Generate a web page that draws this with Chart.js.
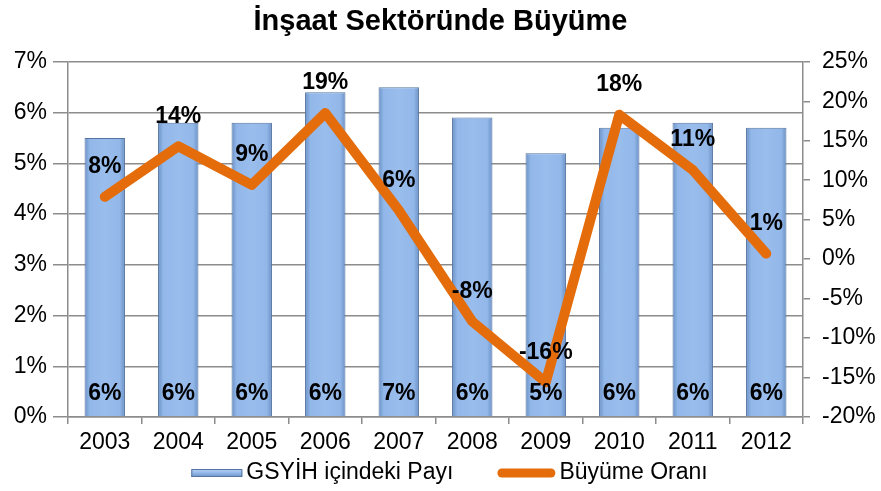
<!DOCTYPE html>
<html>
<head>
<meta charset="utf-8">
<title>İnşaat Sektöründe Büyüme</title>
<script src="https://cdn.jsdelivr.net/npm/chart.js@4.4.1/dist/chart.umd.min.js"></script>
<style>
    html, body { margin: 0; padding: 0; background: #fff; }
    #wrap { width: 881px; height: 491px; position: relative; }
</style>
</head>
<body>
<div id="wrap"><canvas id="insaat"></canvas></div>
<script>
    'use strict';

    // data
    var years = ['2003', '2004', '2005', '2006', '2007', '2008', '2009', '2010', '2011', '2012'];
    var gsyihPayi = [5.5, 5.8, 5.8, 6.4, 6.5, 5.9, 5.2, 5.7, 5.8, 5.7];      // % (left axis)
    var buyumeOrani = [7.9, 14.3, 9.4, 18.5, 6.2, -7.9, -15.6, 18.3, 11.3, 0.7]; // % (right axis)
    var leftTicks = [0, 7, 1];     // min, max, step
    var rightTicks = [-20, 25, 5];

    var barRatio = 0.55;
    var fontFamily = '"Liberation Sans", Arial, sans-serif';
    var tickFont = { family: fontFamily, size: 23 };
    var orange = '#e46c0a';

    var barFill = function (context) {
        var chart = context.chart;
        var xs = chart.scales && chart.scales.x;
        if (!xs || context.dataIndex === undefined) {
            return '#92b7e9';
        }
        var cx = xs.getPixelForValue(context.dataIndex);
        var half = (xs.width / years.length) * barRatio / 2;
        if (!isFinite(cx) || !isFinite(half) || half <= 0) {
            return '#92b7e9';
        }
        var g = chart.ctx.createLinearGradient(cx - half, 0, cx + half, 0);
        g.addColorStop(0, '#6b91c6');
        g.addColorStop(0.13, '#92b7e9');
        g.addColorStop(0.5, '#99bdec');
        g.addColorStop(0.87, '#92b7e9');
        g.addColorStop(1, '#6b91c6');
        return g;
    };

    // value labels, Excel-style
    var valueLabels = {
        id: 'valueLabels',
        afterDatasetsDraw: function (chart) {
            var ctx = chart.ctx;
            ctx.save();
            ctx.font = 'bold 23px ' + fontFamily;
            ctx.fillStyle = '#000';
            ctx.textAlign = 'center';
            ctx.textBaseline = 'middle';

            var bars = chart.getDatasetMeta(0).data;
            var base = chart.scales.y.getPixelForValue(0);
            bars.forEach(function (bar, i) {
                ctx.fillText(Math.round(gsyihPayi[i]) + '%', bar.x, base - 23);
            });

            var pts = chart.getDatasetMeta(1).data;
            pts.forEach(function (pt, i) {
                ctx.fillText(Math.round(buyumeOrani[i]) + '%', pt.x, pt.y - 30);
            });
            ctx.restore();
        }
    };

    // Excel-like legend: wide icon, text right next to it
    var excelLegend = {
        id: 'excelLegend',
        afterDraw: function (chart) {
            var ctx = chart.ctx;
            var y = chart.height - 18;
            var iconW = [51, 58], gap = 4, spacing = 44;
            var names = chart.data.datasets.map(function (d) { return d.label; });

            ctx.save();
            ctx.font = tickFont.size + 'px ' + fontFamily;
            var widths = names.map(function (n) { return ctx.measureText(n).width; });
            var total = iconW[0] + gap + widths[0] + spacing + iconW[1] + gap + widths[1];
            var x = chart.width / 2 + 9 - total / 2;

            // bar item
            var g = ctx.createLinearGradient(0, y - 4, 0, y + 4);
            g.addColorStop(0, '#b9d3f3');
            g.addColorStop(0.5, '#92b7e9');
            g.addColorStop(1, '#6b91c6');
            ctx.fillStyle = g;
            ctx.strokeStyle = '#55749f';
            ctx.lineWidth = 1;
            ctx.fillRect(x, y - 4, iconW[0], 8);
            ctx.strokeRect(x + 0.5, y - 3.5, iconW[0] - 1, 7);
            x += iconW[0] + gap;
            ctx.fillStyle = '#000';
            ctx.textBaseline = 'middle';
            ctx.textAlign = 'left';
            ctx.fillText(names[0], x, y);
            x += widths[0] + spacing;

            // line item
            ctx.strokeStyle = orange;
            ctx.lineWidth = 9;
            ctx.lineCap = 'round';
            ctx.beginPath();
            ctx.moveTo(x + 4.5, y);
            ctx.lineTo(x + iconW[1] - 4.5, y);
            ctx.stroke();
            x += iconW[1] + gap;
            ctx.fillText(names[1], x, y);
            ctx.restore();
        }
    };

    var fixWidth = function (w) {
        return function (scale) { scale.width = w; };
    };

    var ctx = document.getElementById('insaat').getContext('2d');

    var chart = new Chart(ctx, {
        type: 'bar',
        data: {
            labels: years,
            datasets: [
                {
                    type: 'bar',
                    label: 'GSYİH içindeki Payı',
                    data: gsyihPayi,
                    yAxisID: 'y',
                    backgroundColor: barFill,
                    borderColor: '#55749f',
                    borderWidth: 1,
                    barPercentage: barRatio,
                    categoryPercentage: 1,
                    order: 2
                },
                {
                    type: 'line',
                    label: 'Büyüme Oranı',
                    data: buyumeOrani,
                    yAxisID: 'y1',
                    borderColor: orange,
                    backgroundColor: orange,
                    borderWidth: 10,
                    borderCapStyle: 'round',
                    borderJoinStyle: 'round',
                    pointRadius: 0,
                    tension: 0,
                    order: 1
                }
            ]
        },
        options: {
            responsive: true,
            maintainAspectRatio: false,
            animation: false,
            layout: { padding: 0 },
            plugins: {
                title: {
                    display: true,
                    text: 'İnşaat Sektöründe Büyüme',
                    color: '#000',
                    font: { family: fontFamily, size: 29, weight: 'bold' },
                    padding: { top: 5, bottom: 22 }
                },
                legend: { display: false },
                tooltip: { enabled: false }
            },
            scales: {
                x: {
                    offset: true,
                    // x labels + legend strip under the plot
                    afterFit: function (scale) { scale.height = 74; },
                    grid: {
                        display: true,
                        drawOnChartArea: false,
                        offset: true,
                        color: '#8c8c8c',
                        lineWidth: 1.5,
                        tickLength: 7
                    },
                    border: { color: '#8c8c8c', width: 1.5 },
                    ticks: {
                        color: '#000',
                        padding: 5,
                        maxRotation: 0,
                        font: tickFont
                    }
                },
                y: {
                    position: 'left',
                    min: leftTicks[0],
                    max: leftTicks[1],
                    afterFit: fixWidth(68),
                    grid: {
                        color: '#8c8c8c',
                        lineWidth: 1.5,
                        tickLength: 15
                    },
                    border: { color: '#8c8c8c', width: 1.5 },
                    ticks: {
                        stepSize: leftTicks[2],
                        color: '#000',
                        padding: 6,
                        font: tickFont,
                        callback: function (v) { return v + '%'; }
                    }
                },
                y1: {
                    position: 'right',
                    min: rightTicks[0],
                    max: rightTicks[1],
                    afterFit: fixWidth(78),
                    grid: {
                        drawOnChartArea: false,
                        color: '#8c8c8c',
                        lineWidth: 1.5,
                        tickLength: 7
                    },
                    border: { color: '#8c8c8c', width: 1.5 },
                    ticks: {
                        stepSize: rightTicks[2],
                        color: '#000',
                        padding: 12,
                        font: tickFont,
                        callback: function (v) { return v + '%'; }
                    }
                }
            }
        },
        plugins: [valueLabels, excelLegend]
    });
</script>
</body>
</html>
